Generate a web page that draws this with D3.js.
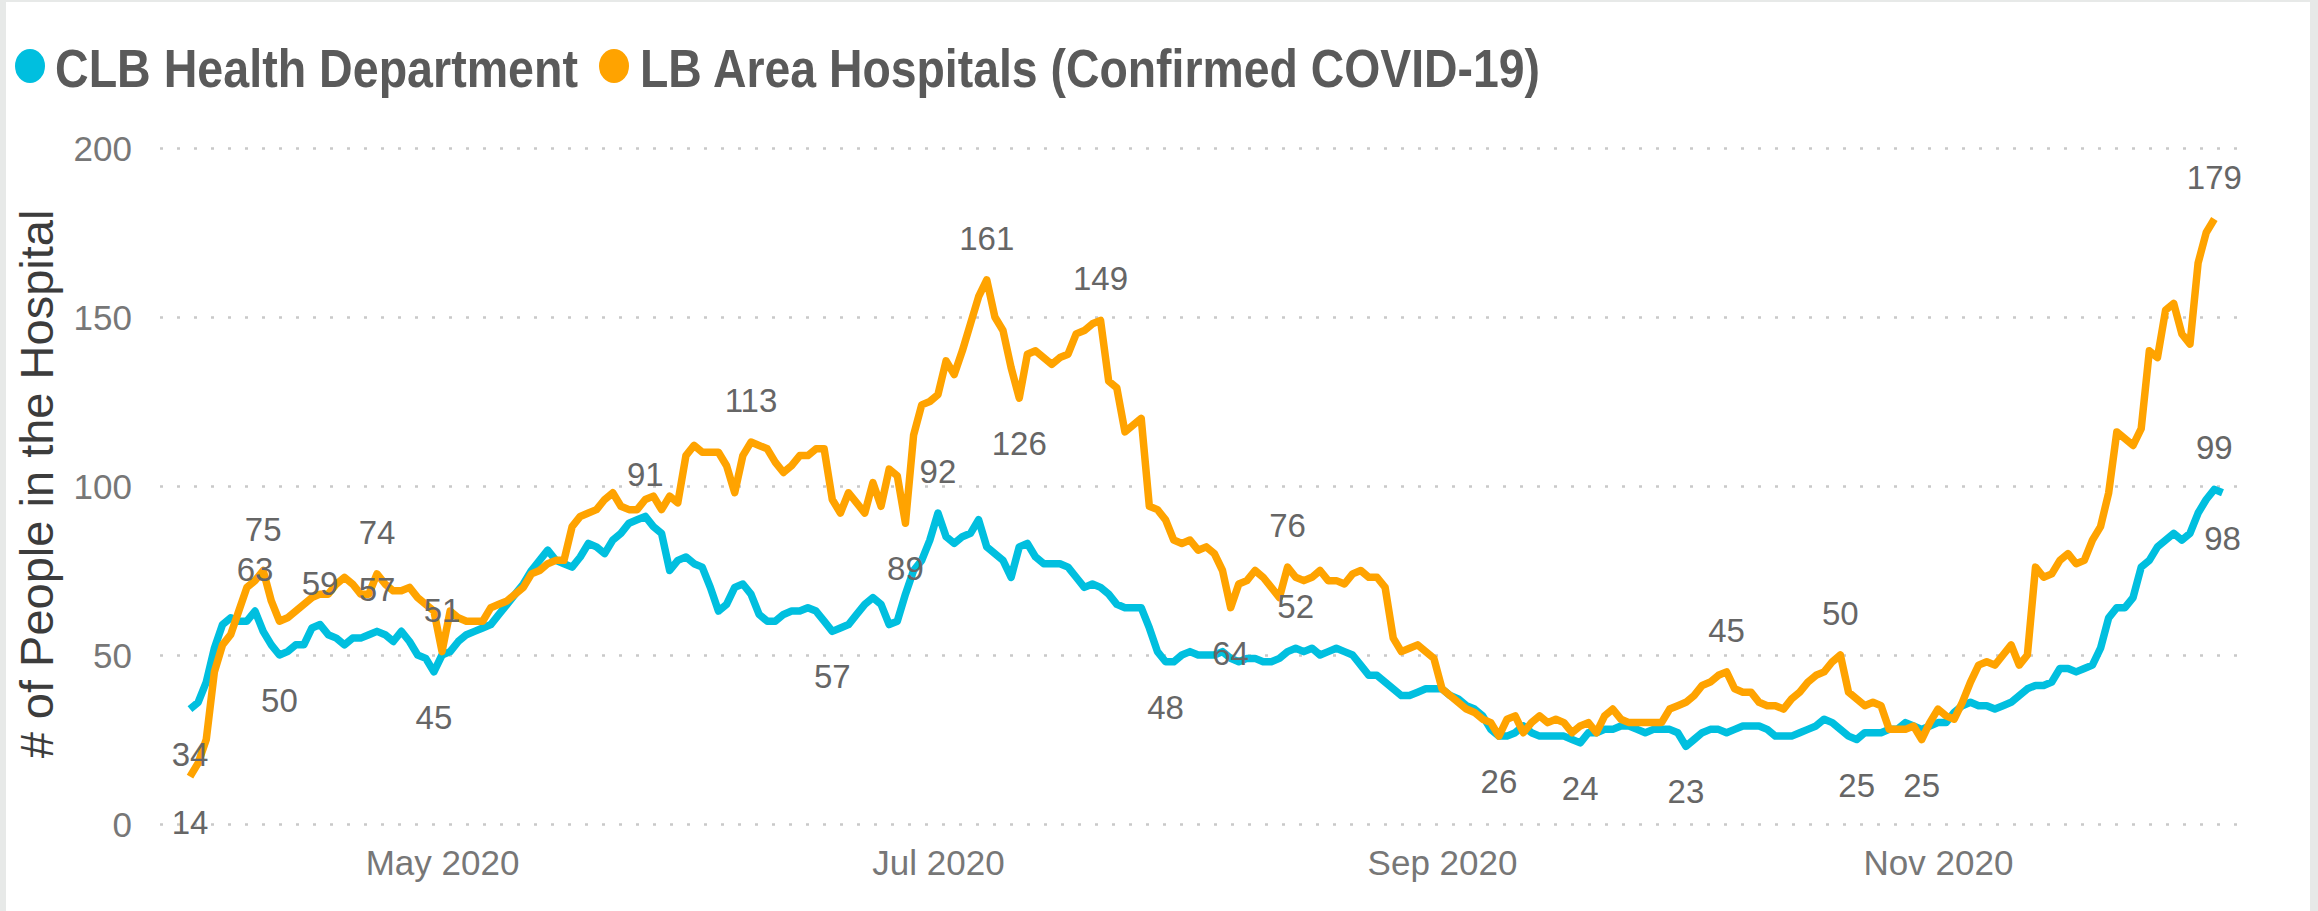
<!DOCTYPE html>
<html>
<head>
<meta charset="utf-8">
<script src="https://cdn.jsdelivr.net/npm/d3@7"></script>
<style>
  html, body { margin: 0; padding: 0; background: #ffffff; }
  svg { display: block; }
</style>
</head>
<body>
<svg id="chart" width="2318" height="911"></svg>
<script>
// ---- data -------------------------------------------------------------
const seriesNames = ["CLB Health Department", "LB Area Hospitals (Confirmed COVID-19)"];
const seriesColors = ["#00BFDF", "#FFA300"];
const firstDay = "2020-03-31";

// daily hospital census, one value per day from firstDay
const healthDept = [
  34,36,42,52,59,61,60,60,63,57,
  53,50,51,53,53,58,59,56,55,53,
  55,55,56,57,56,54,57,54,50,49,
  45,50,51,54,56,57,58,59,62,65,
  68,71,75,78,81,78,77,76,79,83,
  82,80,84,86,89,90,91,88,86,75,
  78,79,77,76,70,63,65,70,71,68,
  62,60,60,62,63,63,64,63,60,57,
  58,59,62,65,67,65,59,60,68,75,
  78,84,92,85,83,85,86,90,82,80,
  78,73,82,83,79,77,77,77,76,73,
  70,71,70,68,65,64,64,64,58,51,
  48,48,50,51,50,50,50,51,49,48,
  49,49,48,48,49,51,52,51,52,50,
  51,52,51,50,47,44,44,42,40,38,
  38,39,40,40,40,38,37,35,34,32,
  28,26,26,27,29,27,26,26,26,26,
  25,24,27,27,28,28,29,29,28,27,
  28,28,28,27,23,25,27,28,28,27,
  28,29,29,29,28,26,26,26,27,28,
  29,31,30,28,26,25,27,27,27,28,
  28,30,29,28,29,30,30,33,35,36,
  35,35,34,35,36,38,40,41,41,42,
  46,46,45,46,47,52,61,64,64,67,
  76,78,82,84,86,84,86,92,96,99,
  98
];

const areaHospitals = [
  14,18,25,45,53,56,63,70,72,75,
  66,60,61,63,65,67,68,68,71,73,
  71,68,68,74,71,69,69,70,67,65,
  63,51,63,61,60,60,60,64,65,66,
  68,70,74,75,77,78,78,88,91,92,
  93,96,98,94,93,93,96,97,93,97,
  95,109,112,110,110,110,106,98,109,113,
  112,111,107,104,106,109,109,111,111,96,
  92,98,95,92,101,94,105,103,89,115,
  124,125,127,137,133,140,148,156,161,150,
  146,135,126,139,140,138,136,138,139,145,
  146,148,149,131,129,116,118,120,94,93,
  90,84,83,84,81,82,80,75,64,71,
  72,75,73,70,67,76,73,72,73,75,
  72,72,71,74,75,73,73,70,55,51,
  52,53,51,49,40,38,36,34,33,31,
  30,26,31,32,27,30,32,30,31,30,
  27,29,30,27,32,34,31,30,30,30,
  30,30,34,35,36,38,41,42,44,45,
  40,39,39,36,35,35,34,37,39,42,
  44,45,48,50,39,37,35,36,35,28,
  28,28,29,25,30,34,32,31,36,42,
  47,48,47,50,53,47,50,76,73,74,
  78,80,77,78,84,88,98,116,114,112,
  117,140,138,152,154,145,142,166,175,179
];

// days (index into the series) that carry a value label, and on which side
const healthDeptLabelDays = [[0,"below"],[8,"above"],[11,"below"],[16,"above"],[23,"above"],[30,"below"],
  [56,"above"],[79,"below"],[92,"above"],[120,"below"],[136,"above"],[171,"below"],[184,"below"],
  [205,"below"],[249,"above"],[250,"below"]];
const areaHospitalsLabelDays = [[0,"below"],[9,"above"],[23,"above"],[31,"above"],[69,"above"],[88,"below"],
  [98,"above"],[102,"below"],[112,"above"],[128,"below"],[135,"above"],[161,"below"],[189,"above"],
  [203,"above"],[213,"below"],[249,"above"]];

const yTickValues = [0, 50, 100, 150, 200];
const xTickDates = ["2020-05-01", "2020-07-01", "2020-09-01", "2020-11-01"];
const yAxisTitle = "# of People in the Hospital";

// ---- layout -----------------------------------------------------------
const W = 2318, H = 911;
const plot = { left: 160, right: 2240, top: 148, bottom: 824 };
const font = "'Liberation Sans', Arial, sans-serif";

const svg = d3.select("#chart");
svg.append("rect").attr("width", W).attr("height", H).attr("fill", "#ffffff");

const start = d3.utcParse("%Y-%m-%d")(firstDay);
const dayOf = i => d3.utcDay.offset(start, i);

const x = d3.scaleUtc()
  .domain([start, dayOf(250)])
  .range([190, 2222.5]);

const y = d3.scaleLinear()
  .domain([0, 200])
  .range([plot.bottom, plot.top]);

// gridlines (dotted)
const grid = svg.append("g")
  .attr("transform", `translate(${plot.left},0)`)
  .call(d3.axisLeft(y).tickValues(yTickValues).tickSize(-(plot.right - plot.left)).tickFormat(""));
grid.select(".domain").remove();
grid.selectAll(".tick line")
  .attr("stroke", "#c9c9c9")
  .attr("stroke-width", 2.5)
  .attr("stroke-dasharray", "3,14");

// y tick labels
const yAxis = svg.append("g")
  .attr("transform", "translate(132,0)")
  .call(d3.axisLeft(y).tickValues(yTickValues).tickSize(0).tickPadding(0));
yAxis.select(".domain").remove();
yAxis.selectAll("text")
  .attr("font-family", font)
  .attr("font-size", 35)
  .attr("fill", "#777777")
  .attr("dy", "0.36em");

// x tick labels
const xAxis = svg.append("g")
  .attr("transform", `translate(0,${plot.bottom})`)
  .call(d3.axisBottom(x)
    .tickValues(xTickDates.map(d3.utcParse("%Y-%m-%d")))
    .tickFormat(d3.utcFormat("%b %Y"))
    .tickSize(0).tickPadding(0));
xAxis.select(".domain").remove();
xAxis.selectAll("text")
  .attr("font-family", font)
  .attr("font-size", 35)
  .attr("fill", "#777777")
  .attr("dy", null)
  .attr("y", 51);

// y axis title
svg.append("text")
  .attr("transform", "translate(53,484) rotate(-90)")
  .attr("text-anchor", "middle")
  .attr("font-family", font)
  .attr("font-size", 47)
  .attr("fill", "#3c3c3c")
  .text(yAxisTitle);

// lines
const series = [healthDept, areaHospitals];
const labelDays = [healthDeptLabelDays, areaHospitalsLabelDays];
const line = d3.line()
  .x((d, i) => x(dayOf(i)))
  .y(d => y(d));

series.forEach((values, s) => {
  svg.append("path")
    .datum(values)
    .attr("fill", "none")
    .attr("stroke", seriesColors[s])
    .attr("stroke-width", 7.5)
    .attr("stroke-linejoin", "round")
    .attr("d", line);
});

// value labels
series.forEach((values, s) => {
  svg.append("g").selectAll("text")
    .data(labelDays[s])
    .join("text")
    .attr("x", d => x(dayOf(d[0])))
    .attr("y", d => y(values[d[0]]) + (d[1] === "above" ? -30 : 57))
    .attr("text-anchor", "middle")
    .attr("font-family", font)
    .attr("font-size", 33)
    .attr("fill", "#666666")
    .text(d => values[d[0]]);
});

// legend
const legendItems = [
  { dot: 30, text: 55, width: 523 },
  { dot: 614, text: 640, width: 900 }
];
const legend = svg.append("g");
seriesNames.forEach((name, s) => {
  legend.append("ellipse")
    .attr("cx", legendItems[s].dot).attr("cy", 66)
    .attr("rx", 15).attr("ry", 17)
    .attr("fill", seriesColors[s]);
  legend.append("text")
    .attr("x", legendItems[s].text).attr("y", 87)
    .attr("font-family", font)
    .attr("font-weight", "bold")
    .attr("font-size", 53)
    .attr("fill", "#5a5a5a")
    .attr("textLength", legendItems[s].width)
    .attr("lengthAdjust", "spacingAndGlyphs")
    .text(name);
});

// frame
svg.append("rect").attr("x", 0).attr("y", 0).attr("width", 6).attr("height", H).attr("fill", "#e7e9e8");
svg.append("rect").attr("x", W - 8).attr("y", 0).attr("width", 8).attr("height", H).attr("fill", "#e7e9e8");
svg.append("rect").attr("x", 0).attr("y", 0).attr("width", W).attr("height", 2).attr("fill", "#e7e9e8");
</script>
</body>
</html>
